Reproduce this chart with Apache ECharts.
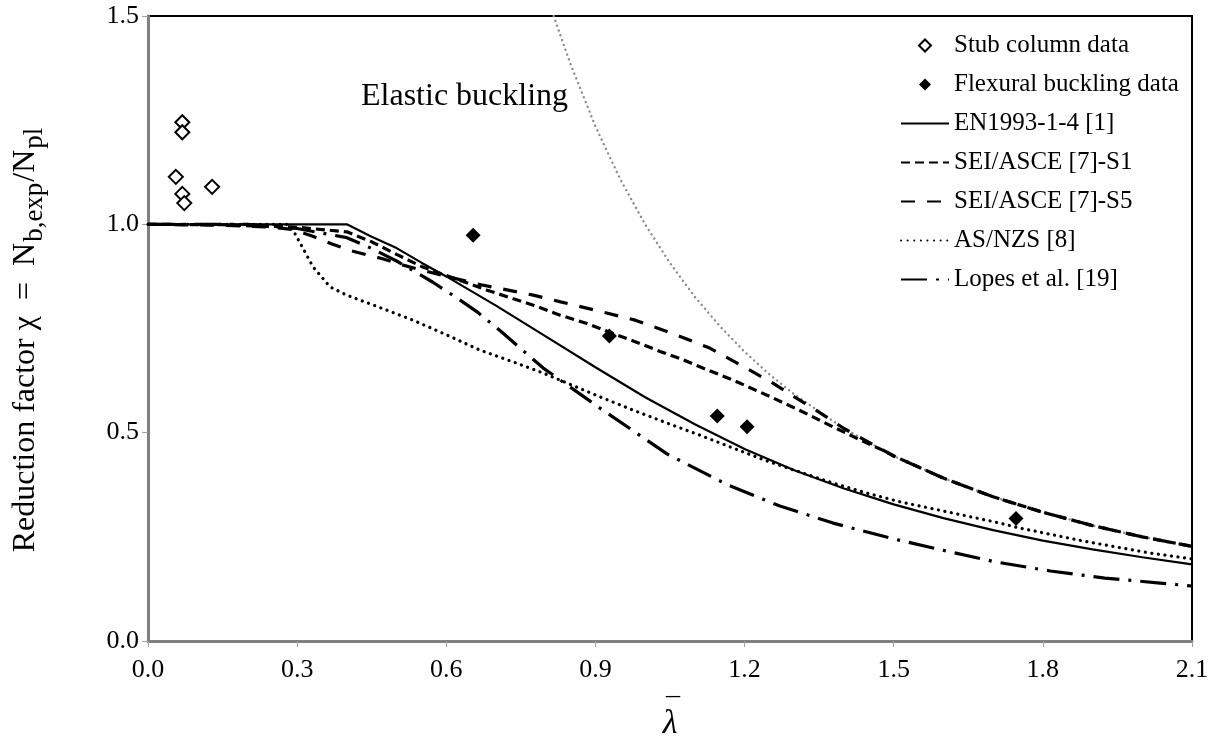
<!DOCTYPE html>
<html>
<head>
<meta charset="utf-8">
<title>Column buckling curves</title>
<script src="https://cdn.jsdelivr.net/npm/echarts@6/dist/echarts.min.js"></script>
<style>
  html, body { margin: 0; padding: 0; background: #ffffff; }
  #chart { width: 1219px; height: 747px; }
</style>
</head>
<body>
<div id="chart"></div>
<script>
// Axis ranges and tick spacing
const xTicks = { min: 0, max: 2.1, interval: 0.3 };
const yTicks = { min: 0, max: 1.5, interval: 0.5 };

// Test results: [non-dimensional slenderness, reduction factor]
const stubColumnData = [[0.069, 1.245], [0.069, 1.221], [0.056, 1.114], [0.129, 1.09], [0.069, 1.073], [0.073, 1.051]];
const flexuralData = [[0.654, 0.974], [0.928, 0.732], [1.145, 0.540], [1.205, 0.514], [1.746, 0.294]];

// Design curves
const en1993 = [[0, 1.0], [0.4, 1.0], [0.45, 0.970], [0.5, 0.943], [0.55, 0.908], [0.6, 0.875], [0.7, 0.805],
  [0.8, 0.731], [0.9, 0.657], [1.0, 0.585], [1.1, 0.520], [1.2, 0.461], [1.3, 0.410], [1.4, 0.366],
  [1.5, 0.328], [1.6, 0.295], [1.7, 0.266], [1.8, 0.241], [1.9, 0.220], [2.0, 0.201], [2.1, 0.184]];

const seiS1 = [[0, 1.0], [0.15, 0.999], [0.3, 0.993], [0.4, 0.982], [0.45, 0.958], [0.5, 0.928], [0.55, 0.899],
  [0.6, 0.877], [0.62, 0.869], [0.682, 0.842], [0.775, 0.806], [0.829, 0.782], [0.883, 0.762], [0.929, 0.741],
  [0.976, 0.720], [1.03, 0.695], [1.07, 0.678], [1.11, 0.658], [1.177, 0.626], [1.245, 0.590], [1.31, 0.554],
  [1.378, 0.514], [1.446, 0.475], [1.48, 0.457], [1.5, 0.444], [1.6, 0.391], [1.7, 0.346], [1.8, 0.309],
  [1.9, 0.277], [2.0, 0.250], [2.1, 0.227]];

const seiS5 = [[0, 1.0], [0.15, 0.998], [0.25, 0.993], [0.29, 0.988], [0.33, 0.972], [0.37, 0.953], [0.41, 0.936],
  [0.47, 0.918], [0.51, 0.903], [0.6, 0.875], [0.67, 0.855], [0.775, 0.830], [0.83, 0.814], [0.91, 0.791],
  [0.98, 0.770], [1.064, 0.734], [1.13, 0.703], [1.2, 0.657], [1.257, 0.619], [1.3, 0.586], [1.345, 0.553],
  [1.4, 0.510], [1.5, 0.444], [1.6, 0.391], [1.7, 0.346], [1.8, 0.309], [1.9, 0.277], [2.0, 0.250], [2.1, 0.227]];

const asNzs = [[0, 1.0], [0.28, 1.0], [0.29, 0.99], [0.306, 0.955], [0.332, 0.898], [0.366, 0.850], [0.4, 0.830],
  [0.467, 0.800], [0.533, 0.770], [0.6, 0.735], [0.668, 0.698], [0.734, 0.670], [0.795, 0.643], [0.909, 0.586],
  [0.976, 0.554], [1.044, 0.523], [1.11, 0.494], [1.177, 0.463], [1.245, 0.432], [1.31, 0.406], [1.378, 0.379],
  [1.446, 0.355], [1.513, 0.334], [1.58, 0.317], [1.647, 0.300], [1.714, 0.283], [1.75, 0.272], [1.881, 0.240],
  [2.016, 0.211], [2.1, 0.197]];

const lopes = [[0, 1.0], [0.2, 1.0], [0.3, 0.99], [0.4, 0.968], [0.45, 0.942], [0.5, 0.912], [0.573, 0.861],
  [0.622, 0.823], [0.662, 0.790], [0.708, 0.745], [0.795, 0.655], [0.909, 0.559], [1.044, 0.449], [1.167, 0.374],
  [1.271, 0.324], [1.378, 0.283], [1.5, 0.245], [1.613, 0.214], [1.704, 0.190], [1.815, 0.168], [1.925, 0.151],
  [2.036, 0.139], [2.1, 0.132]];

const elastic = [[0.816, 1.5], [0.85, 1.384], [0.9, 1.235], [0.95, 1.108], [1.0, 1.0], [1.05, 0.907], [1.1, 0.826],
  [1.15, 0.756], [1.2, 0.694], [1.25, 0.640], [1.3, 0.592], [1.4, 0.510], [1.5, 0.444], [1.6, 0.391], [1.7, 0.346],
  [1.8, 0.309], [1.9, 0.277], [2.0, 0.250], [2.1, 0.227]];

const seriesNames = ['Stub column data', 'Flexural buckling data', 'EN1993-1-4 [1]', 'SEI/ASCE [7]-S1',
  'SEI/ASCE [7]-S5', 'AS/NZS [8]', 'Lopes et al. [19]'];
const elasticLabel = 'Elastic buckling';

const serif = '"Liberation Serif", "Times New Roman", serif';
const diamondIcon = 'path://M5,0L10,5L5,10L0,5Z';

function curve(name, data, lineStyle) {
  return {
    name: name, type: 'line', data: data, symbol: 'none', showSymbol: false,
    lineStyle: Object.assign({ color: '#000' }, lineStyle),
    itemStyle: { color: '#000' },
    silent: true, clip: true, z: 3
  };
}

// Legend entries: test data keep a square-proportioned diamond, curves show only their line sample
const legendData = seriesNames.map((name, i) => i < 2
  ? { name: name, icon: diamondIcon }
  : { name: name, itemStyle: { opacity: 0 } });

const chart = echarts.init(document.getElementById('chart'), null, { renderer: 'canvas' });

chart.setOption({
  animation: false,
  backgroundColor: '#ffffff',
  grid: {
    left: 148, right: 27, top: 16, bottom: 106,
    show: true, borderColor: '#000', borderWidth: 2, backgroundColor: 'transparent'
  },
  legend: {
    data: legendData,
    orient: 'vertical',
    left: 895, top: 28,
    itemWidth: 48, itemHeight: 12, itemGap: 14,
    symbolKeepAspect: true,
    textStyle: { fontFamily: serif, fontSize: 25, color: '#000' },
    selectedMode: false
  },
  xAxis: {
    type: 'value', min: xTicks.min, max: xTicks.max, interval: xTicks.interval,
    name: '{bar|¯}\n{lam|λ}', nameLocation: 'middle', nameGap: 68,
    nameTextStyle: {
      align: 'center', verticalAlign: 'top',
      rich: {
        bar: { fontFamily: serif, fontSize: 28, lineHeight: 2, color: '#000', padding: [0, 0, 0, 6] },
        lam: { fontFamily: serif, fontSize: 34, fontStyle: 'italic', lineHeight: 26, color: '#000' }
      }
    },
    axisLine: { show: true, onZero: false, lineStyle: { color: '#808080', width: 3 } },
    axisTick: { show: true, inside: false, length: 6, lineStyle: { color: '#a0a0a0', width: 1 } },
    axisLabel: { fontFamily: serif, fontSize: 26, color: '#000', margin: 16, formatter: v => v.toFixed(1) },
    splitLine: { show: false }
  },
  yAxis: {
    type: 'value', min: yTicks.min, max: yTicks.max, interval: yTicks.interval,
    name: 'Reduction factor χ  =  N{sub|b,exp}/N{sub|pl}', nameLocation: 'middle', nameGap: 100, nameRotate: 90,
    nameTextStyle: {
      fontFamily: serif, fontSize: 32, color: '#000', padding: [0, 22, 0, 0],
      rich: { sub: { fontFamily: serif, fontSize: 27, color: '#000', padding: [18, 1, 0, 1] } }
    },
    axisLine: { show: true, onZero: false, lineStyle: { color: '#808080', width: 3 } },
    axisTick: { show: true, inside: false, length: 6, lineStyle: { color: '#a0a0a0', width: 1 } },
    axisLabel: { fontFamily: serif, fontSize: 26, color: '#000', margin: 9, formatter: v => v.toFixed(1) },
    splitLine: { show: false }
  },
  graphic: [{
    type: 'text', left: 361, top: 81, silent: true,
    style: { text: elasticLabel, font: '32px ' + serif, fill: '#000' }
  }],
  series: [
    {
      name: seriesNames[0], type: 'scatter', data: stubColumnData, symbol: 'diamond', symbolSize: 14,
      itemStyle: { color: '#fff', borderColor: '#000', borderWidth: 2, opacity: 1 }, z: 5
    },
    {
      name: seriesNames[1], type: 'scatter', data: flexuralData, symbol: 'diamond', symbolSize: 15,
      itemStyle: { color: '#000', borderWidth: 0, opacity: 1 }, z: 5
    },
    curve(seriesNames[2], en1993, { width: 2.2, type: 'solid' }),
    curve(seriesNames[3], seiS1, { width: 3.2, type: [9, 5] }),
    curve(seriesNames[4], seiS5, { width: 3.2, type: [14, 12] }),
    curve(seriesNames[5], asNzs, { width: 3.2, type: [0.1, 6.5], cap: 'round' }),
    curve(seriesNames[6], lopes, { width: 3.2, type: [26, 9, 3, 9] }),
    {
      name: elasticLabel, type: 'line', data: elastic, symbol: 'none', showSymbol: false,
      lineStyle: { color: '#8c8c8c', width: 2.4, type: [0.1, 5], cap: 'round' },
      silent: true, clip: true, z: 2
    }
  ]
});
</script>
</body>
</html>
